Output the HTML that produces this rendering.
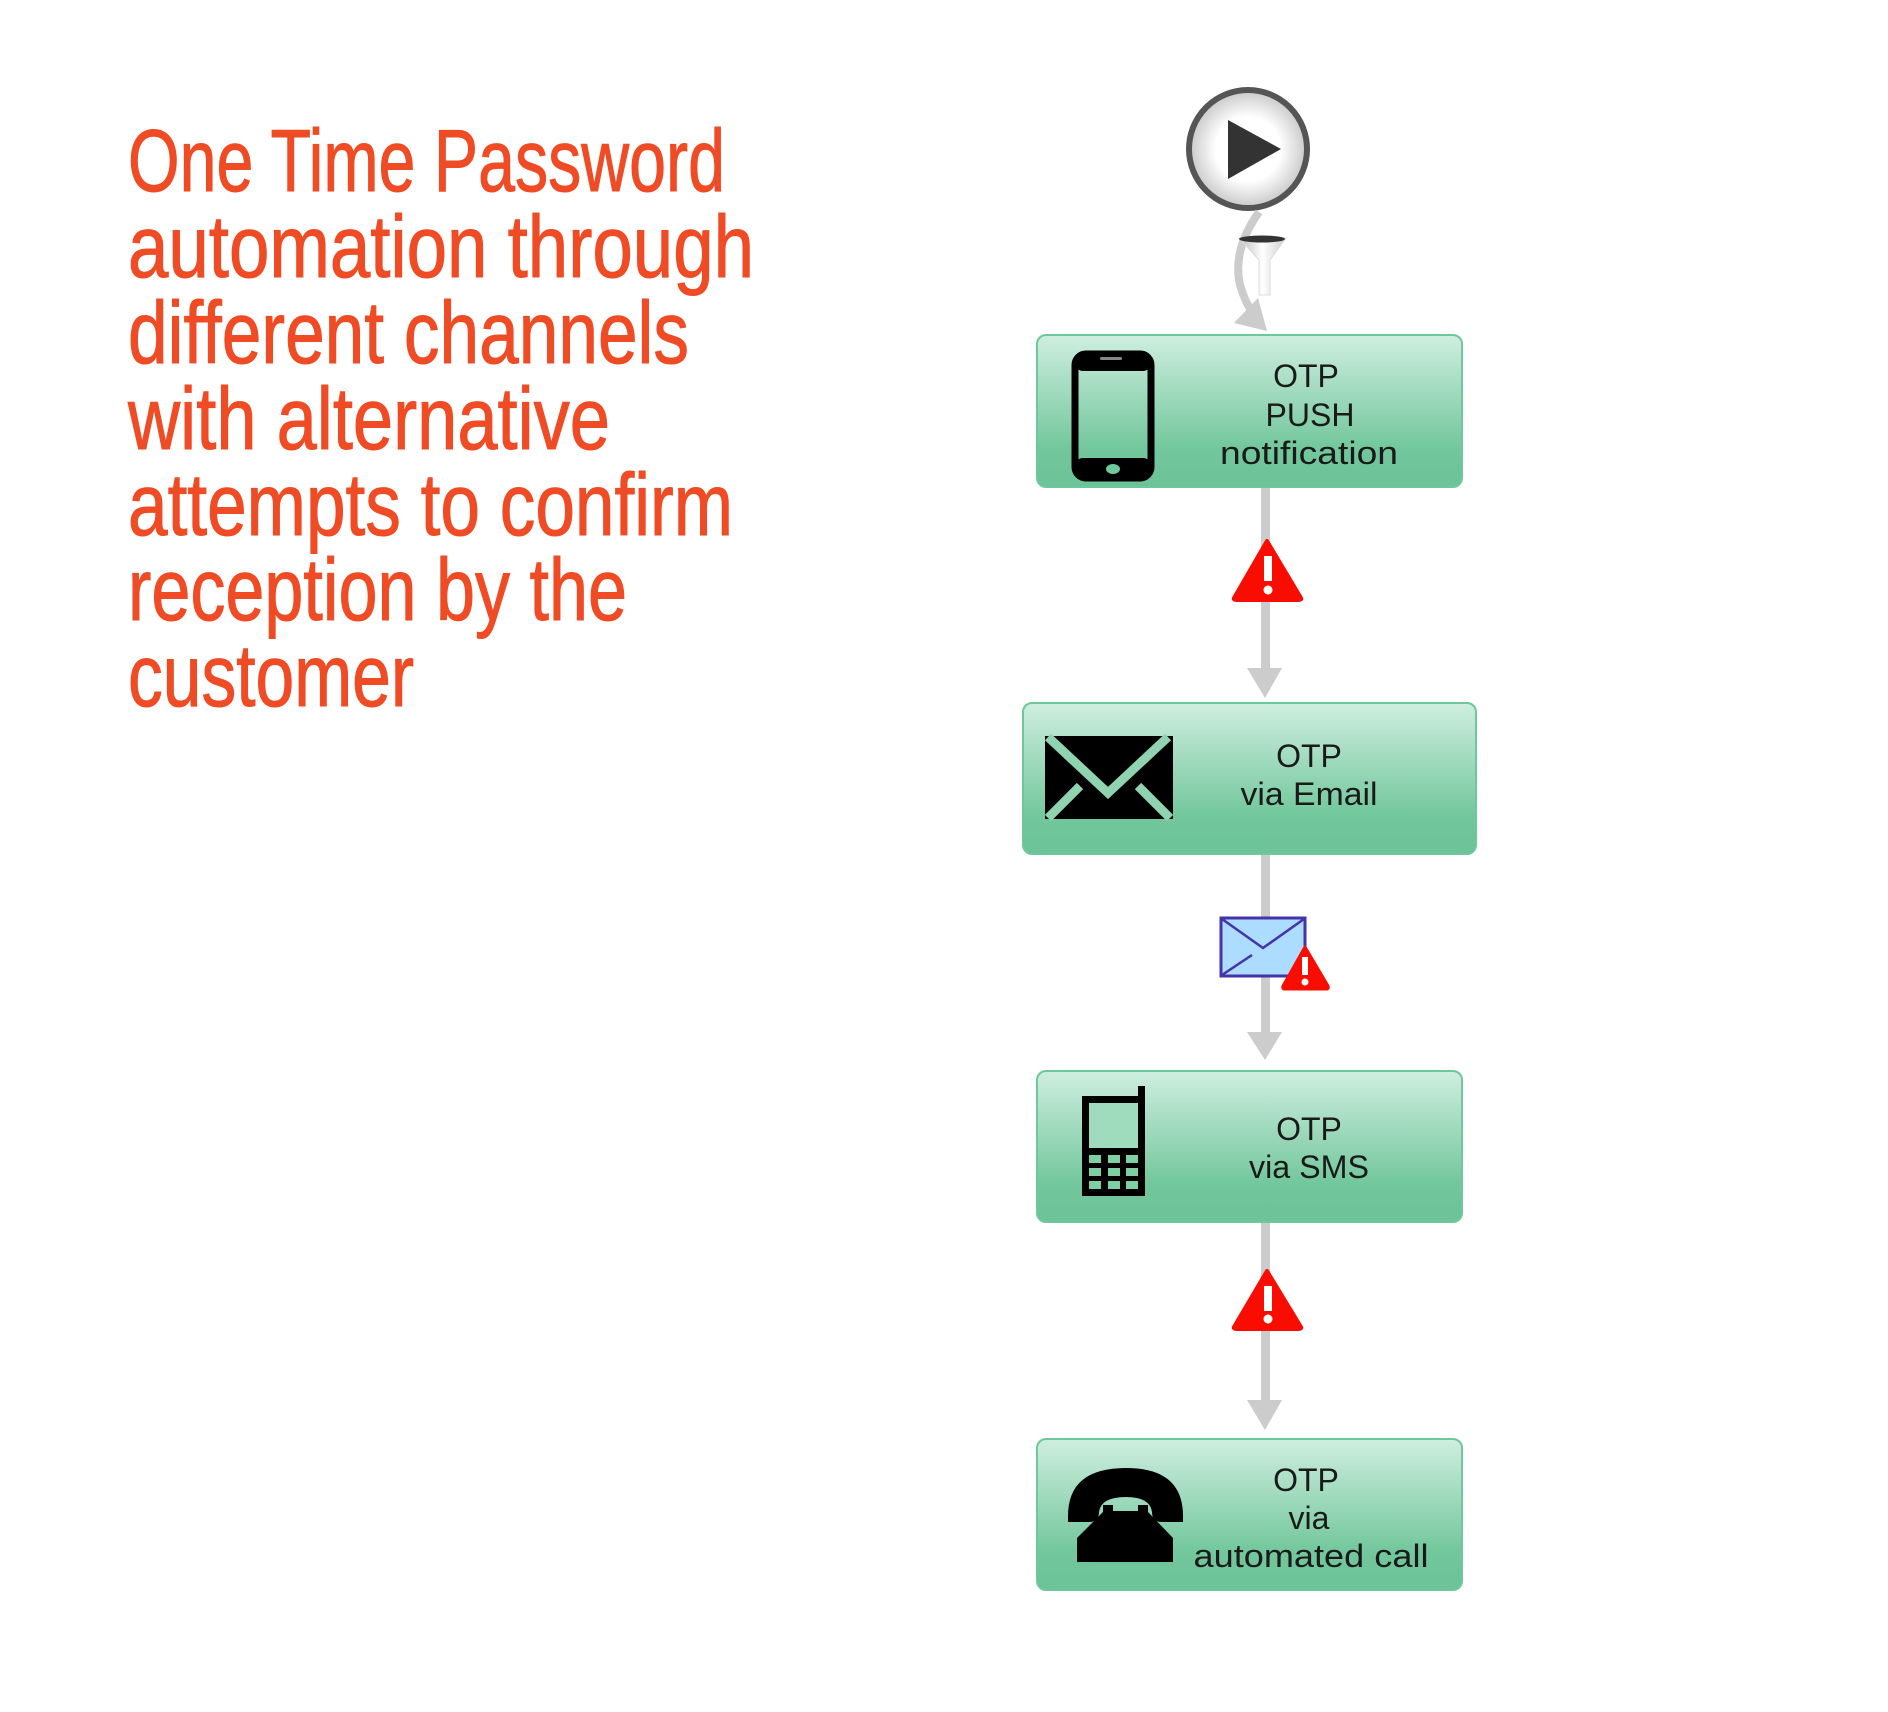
<!DOCTYPE html>
<html><head><meta charset="utf-8"><style>
html,body{margin:0;padding:0;background:#fff;width:1888px;height:1712px;overflow:hidden}
svg{display:block}
</style></head><body>
<svg width="1888" height="1712" viewBox="0 0 1888 1712" xmlns="http://www.w3.org/2000/svg">
<defs>
<linearGradient id="g" x1="0" y1="0" x2="0" y2="1">
<stop offset="0" stop-color="#cfeee0"/><stop offset="0.75" stop-color="#72c79c"/><stop offset="1" stop-color="#6cc397"/>
</linearGradient>
<radialGradient id="c" cx="0.5" cy="0.5" r="0.5">
<stop offset="0.55" stop-color="#ffffff"/><stop offset="1" stop-color="#c8c8c8"/>
</radialGradient>
<linearGradient id="f" x1="0" y1="0" x2="1" y2="0">
<stop offset="0" stop-color="#bbb"/><stop offset="0.5" stop-color="#fff"/><stop offset="1" stop-color="#ccc"/>
</linearGradient>
</defs>

<g font-family="Liberation Sans, sans-serif" fill="#ef4b24" stroke="#ef4b24" stroke-width="1" font-size="88">
<text x="128" y="191" textLength="597" lengthAdjust="spacingAndGlyphs">One Time Password</text>
<text x="128" y="277" textLength="626" lengthAdjust="spacingAndGlyphs">automation through</text>
<text x="128" y="363" textLength="561" lengthAdjust="spacingAndGlyphs">different channels</text>
<text x="128" y="449" textLength="482" lengthAdjust="spacingAndGlyphs">with alternative</text>
<text x="128" y="535" textLength="605" lengthAdjust="spacingAndGlyphs">attempts to confirm</text>
<text x="128" y="620" textLength="499" lengthAdjust="spacingAndGlyphs">reception by the</text>
<text x="128" y="706" textLength="286" lengthAdjust="spacingAndGlyphs">customer</text>
</g>

<circle cx="1248" cy="149" r="59" fill="url(#c)" stroke="#555" stroke-width="6"/>
<polygon points="1228,120 1281,149 1228,179" fill="#333"/>
<path d="M1259,212 Q1232,250 1240,285 Q1246,305 1256,318" fill="none" stroke="#ccc" stroke-width="8"/>
<polygon points="1234,323 1258,298 1267,331" fill="#ccc"/>
<polygon points="1239,238 1286,238 1270,260 1270,295 1259,295 1259,260" fill="url(#f)" stroke="#ddd" stroke-width="1"/>
<ellipse cx="1262" cy="239" rx="23" ry="3.5" fill="#333"/>

<g fill="#ccc">
<rect x="1261" y="487" width="9" height="185"/>
<polygon points="1247,668 1282,668 1265,698"/>
<rect x="1261" y="854" width="9" height="180"/>
<polygon points="1247,1032 1282,1032 1265,1060"/>
<rect x="1261" y="1222" width="9" height="180"/>
<polygon points="1247,1400 1282,1400 1265,1430"/>
</g>

<g>
<path d="M1267,541 L1301,598 Q1302,600 1298,600 L1237,600 Q1233,600 1234,598 Z" fill="#f80d00" stroke="#f80d00" stroke-width="4" stroke-linejoin="round"/>
<rect x="1264" y="556" width="8" height="25" fill="#fff"/><circle cx="1268" cy="590" r="4.5" fill="#fff"/>
</g>
<g>
<path d="M1267,1271 L1301,1327 Q1302,1329 1298,1329 L1237,1329 Q1233,1329 1234,1327 Z" fill="#f80d00" stroke="#f80d00" stroke-width="4" stroke-linejoin="round"/>
<rect x="1264" y="1286" width="8" height="25" fill="#fff"/><circle cx="1268" cy="1319" r="4.5" fill="#fff"/>
</g>
<rect x="1221" y="918" width="84" height="58" fill="#acdcff" stroke="#4433aa" stroke-width="3"/>
<polyline points="1222,919 1263,948 1304,919" fill="none" stroke="#4433aa" stroke-width="2.5"/>
<line x1="1222" y1="975" x2="1252" y2="955" stroke="#4433aa" stroke-width="2.5"/>
<path d="M1305,947 L1328,986 Q1329,989 1326,989 L1285,989 Q1282,989 1283,986 Z" fill="#f80d00" stroke="#f80d00" stroke-width="3" stroke-linejoin="round"/>
<rect x="1302" y="957" width="6" height="18" fill="#fff"/><circle cx="1305" cy="982" r="3.5" fill="#fff"/>

<rect x="1037" y="335" width="425" height="152" rx="9" fill="url(#g)" stroke="#6fc89b" stroke-width="2"/>
<rect x="1023" y="703" width="453" height="151" rx="9" fill="url(#g)" stroke="#6fc89b" stroke-width="2"/>
<rect x="1037" y="1071" width="425" height="151" rx="9" fill="url(#g)" stroke="#6fc89b" stroke-width="2"/>
<rect x="1037" y="1439" width="425" height="151" rx="9" fill="url(#g)" stroke="#6fc89b" stroke-width="2"/>

<rect x="1075" y="354" width="76" height="124" rx="11" fill="none" stroke="#000" stroke-width="7"/>
<rect x="1075" y="354" width="76" height="17" rx="8" fill="#000"/>
<rect x="1075" y="458" width="76" height="20" rx="8" fill="#000"/>
<rect x="1100" y="357" width="22" height="3" rx="1.5" fill="#888"/>
<ellipse cx="1113" cy="469" rx="7" ry="5" fill="#6fc89b"/>

<rect x="1045" y="736" width="128" height="83" fill="#000"/>
<polyline points="1048,737 1108,793 1168,737" fill="none" stroke="#8fd3b1" stroke-width="9"/>
<line x1="1048" y1="818" x2="1080" y2="786" stroke="#8fd3b1" stroke-width="9"/>
<line x1="1170" y1="818" x2="1138" y2="786" stroke="#8fd3b1" stroke-width="9"/>

<rect x="1082" y="1096" width="63" height="100" fill="#000"/>
<rect x="1138" y="1086" width="7" height="12" fill="#000"/>
<rect x="1089" y="1103" width="49" height="45" fill="#9fdcbe"/>
<g fill="#7fcfa5">
<rect x="1089" y="1155" width="12" height="8"/><rect x="1108" y="1155" width="12" height="8"/><rect x="1126" y="1155" width="12" height="8"/>
<rect x="1089" y="1168" width="12" height="8"/><rect x="1108" y="1168" width="12" height="8"/><rect x="1126" y="1168" width="12" height="8"/>
<rect x="1089" y="1181" width="12" height="8"/><rect x="1108" y="1181" width="12" height="8"/><rect x="1126" y="1181" width="12" height="8"/>
</g>

<path d="M1068,1516 Q1068,1468 1126,1468 Q1183,1468 1183,1516 L1183,1522 L1162,1522 Q1152,1522 1152,1512 Q1150,1497 1126,1497 Q1101,1497 1099,1512 Q1099,1522 1089,1522 L1068,1522 Z" fill="#000"/>
<path d="M1103,1505 L1113,1505 L1113,1511 L1138,1511 L1138,1505 L1148,1505 L1148,1512 L1173,1538 L1173,1562 L1077,1562 L1077,1538 L1103,1512 Z" fill="#000"/>

<g font-family="Liberation Sans, sans-serif" font-size="32" fill="#1a1a1a" text-anchor="middle">
<text x="1306" y="387">OTP</text>
<text x="1310" y="426">PUSH</text>
<text x="1309" y="464" textLength="178" lengthAdjust="spacingAndGlyphs">notification</text>
<text x="1309" y="767">OTP</text>
<text x="1309" y="805" textLength="137" lengthAdjust="spacingAndGlyphs">via Email</text>
<text x="1309" y="1140">OTP</text>
<text x="1309" y="1178" textLength="120" lengthAdjust="spacingAndGlyphs">via SMS</text>
<text x="1306" y="1491">OTP</text>
<text x="1309" y="1529">via</text>
<text x="1311" y="1567" textLength="235" lengthAdjust="spacingAndGlyphs">automated call</text>
</g>
</svg>
</body></html>
